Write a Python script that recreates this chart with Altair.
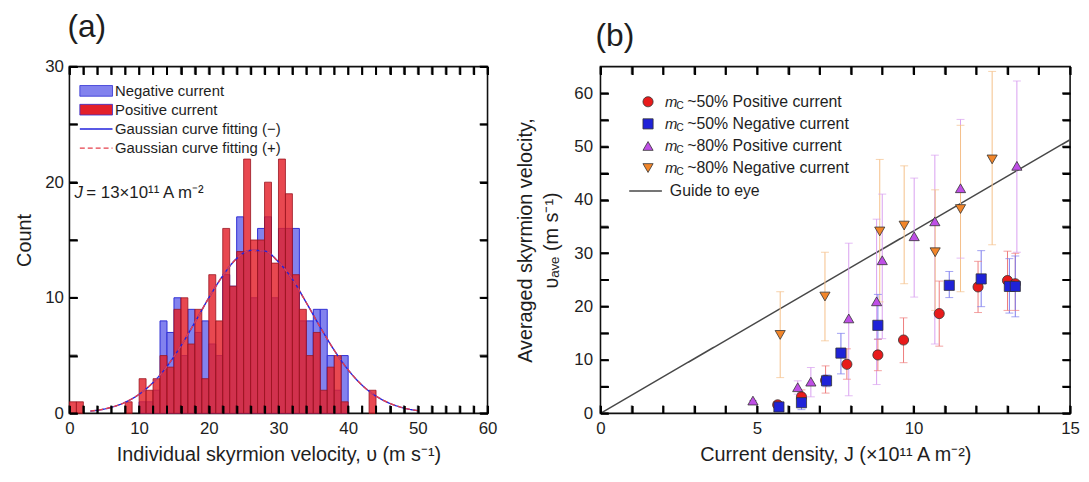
import altair as alt
import pandas as pd

FONT = "Liberation Sans"
TXT = "#1e1e1e"

# ---------------- panel (a): histogram of individual velocities ----------------
bin_left = [0, 1, 2, 3, 4, 5, 6, 7, 8, 9, 10, 11, 12, 13, 14, 15, 16, 17, 18, 19,
            20, 21, 22, 23, 24, 25, 26, 27, 28, 29, 30, 31, 32, 33, 34, 35, 36, 37,
            38, 39, 40, 41, 42, 43]
count_positive = [1, 1, 0, 0, 0, 0, 0, 0, 1, 0,
                  3, 2, 3, 5, 4, 9, 10, 6, 9, 3,
                  12, 8, 16, 11, 14, 22, 15, 15, 20, 13,
                  22, 19, 12, 9, 5, 7, 2, 4, 5, 1,
                  0, 0, 0, 2]
count_negative = [0, 0, 0, 0, 0, 0, 0, 0, 0, 0,
                  1, 1, 2, 8, 7, 10, 5, 9, 7, 8,
                  6, 5, 12, 11, 17, 14, 10, 16, 17, 10,
                  16, 16, 16, 8, 8, 9, 9, 5, 2, 5,
                  0, 0, 0, 0]
BIN_W = 1

fit_x = [3, 4, 6, 8, 10, 12, 14, 16, 18, 20, 22, 24, 26, 28, 30, 32, 34, 36, 38,
         40, 42, 44, 46, 48, 50]
fit_negative = [0.19, 0.27, 0.52, 0.96, 1.65, 2.67, 4.07, 5.84, 7.87, 9.99, 11.9,
                13.4, 14.1, 14.05, 13.1, 11.6, 9.57, 7.45, 5.46, 3.76, 2.44, 1.49,
                0.86, 0.46, 0.23]
fit_positive = [0.19, 0.27, 0.52, 0.96, 1.65, 2.67, 4.07, 5.84, 7.87, 9.99, 11.9,
                13.4, 14.1, 14.05, 13.1, 11.6, 9.57, 7.45, 5.46, 3.76, 2.44, 1.49,
                0.86, 0.46, 0.23]

hist_series = ["Negative current", "Positive current"]
fit_series = ["Gaussian curve fitting (\u2212)", "Gaussian curve fitting (+)"]

a_xticks = [0, 2, 4, 6, 8, 10, 12, 14, 16, 18, 20, 22, 24, 26, 28, 30, 32, 34, 36,
            38, 40, 42, 44, 46, 48, 50, 52, 54, 56, 58, 60]
a_yticks = [0, 5, 10, 15, 20, 25, 30]

# ---------------- panel (b): averaged velocity vs current density ----------------
b_series = ["~50% Positive current", "~50% Negative current",
            "~80% Positive current", "~80% Negative current"]

p50_x = [5.66, 6.42, 7.19, 7.87, 8.86, 9.68, 10.82, 12.06, 13.00, 13.25]
p50_y = [1.6, 3.1, 6.2, 9.2, 10.95, 13.75, 18.7, 23.7, 24.9, 24.3]
p50_lo = [1.0, 1.8, 3.8, 6.4, 8.0, 9.5, 12.6, 18.9, 19.3, 19.3]
p50_hi = [2.2, 4.4, 8.9, 12.1, 13.9, 17.9, 24.8, 28.5, 30.4, 30.0]

n50_x = [5.70, 6.42, 7.22, 7.68, 8.86, 11.14, 12.16, 13.06, 13.25]
n50_y = [1.2, 2.0, 6.1, 11.3, 16.5, 24.0, 25.2, 23.8, 23.8]
n50_lo = [0.6, 0.7, 5.0, 7.4, 13.9, 21.7, 20.0, 18.8, 18.1]
n50_hi = [2.0, 3.2, 7.2, 15.0, 22.3, 26.6, 30.5, 29.0, 29.5]

p80_x = [4.87, 6.30, 6.72, 7.93, 8.82, 9.00, 10.02, 10.68, 11.50, 13.30]
p80_y = [2.4, 4.9, 5.95, 17.8, 21.0, 28.7, 33.2, 36.0, 42.2, 46.4]
p80_lo = [2.4, 3.6, 3.1, 3.3, 5.4, 14.0, 21.8, 13.0, 29.1, 30.2]
p80_hi = [2.4, 6.1, 8.6, 31.9, 36.4, 41.1, 44.1, 48.4, 55.1, 62.3]

n80_x = [5.74, 7.17, 8.92, 9.70, 10.69, 11.50, 12.51]
n80_y = [14.7, 21.9, 34.1, 35.2, 30.2, 38.3, 47.6]
n80_lo = [6.7, 13.6, 20.9, 24.3, 19.3, 22.8, 31.6]
n80_hi = [22.8, 30.2, 47.6, 46.4, 41.9, 54.0, 64.1]

guide_x = [0, 15]
guide_y = [0, 51.3]

b_xticks = [0, 1, 2, 3, 4, 5, 6, 7, 8, 9, 10, 11, 12, 13, 14, 15]
b_yticks = [0, 5, 10, 15, 20, 25, 30, 35, 40, 45, 50, 55, 60]

# ---------------- build tables ----------------
neg_df = pd.DataFrame([{"x0": b, "x1": b + BIN_W, "count": c, "series": hist_series[0]}
                       for b, c in zip(bin_left, count_negative) if c > 0])
pos_df = pd.DataFrame([{"x0": b, "x1": b + BIN_W, "count": c, "series": hist_series[1]}
                       for b, c in zip(bin_left, count_positive) if c > 0])
fit_df = pd.concat([
    pd.DataFrame({"x": fit_x, "y": fit_negative, "fit": fit_series[0]}),
    pd.DataFrame({"x": fit_x, "y": fit_positive, "fit": fit_series[1]}),
])

pts = []
for name, xs, ys, los, his in [
    (b_series[0], p50_x, p50_y, p50_lo, p50_hi),
    (b_series[1], n50_x, n50_y, n50_lo, n50_hi),
    (b_series[2], p80_x, p80_y, p80_lo, p80_hi),
    (b_series[3], n80_x, n80_y, n80_lo, n80_hi),
]:
    for x, y, lo, hi in zip(xs, ys, los, his):
        pts.append({"x": x, "y": y, "lo": lo, "hi": hi, "series": name})
pts_df = pd.DataFrame(pts)
guide_df = pd.DataFrame({"x": guide_x, "y": guide_y, "g": "Guide to eye"})

TICK = 8
TICKC = "#000000"
TICKW = 2


def axis_with_inward_ticks(values, step, title, lp, tp, span):
    """Labels every `step`; inward ticks on both opposite edges drawn as dashed grid lines."""
    return alt.Axis(values=values,
                    labelExpr=f"datum.value % {step} === 0 ? datum.label : ''",
                    ticks=False, domain=False,
                    grid=True, gridColor=TICKC, gridWidth=TICKW, gridOpacity=1,
                    gridDash=[TICK, span - 2 * TICK],
                    labelOverlap=False, labelFlush=False, labelPadding=lp,
                    title=title, titlePadding=tp, zindex=1)


def tick_layers(xvals, yvals, xs, ys, xax, yax, xdom, ydom):
    """Same inward ticks as marks placed through the scales (backs up the grid dashes)."""
    tx = pd.DataFrame({"tv": xvals})
    ty = pd.DataFrame({"tv": yvals})
    out = []
    for yd, off in [(ydom[0], -TICK / 2), (ydom[1], TICK / 2)]:
        out.append(alt.Chart(tx).transform_calculate(edge=str(yd)).mark_tick(
            orient="vertical", size=TICK, thickness=TICKW, color=TICKC, yOffset=off).encode(
            x=alt.X("tv:Q", scale=xs, axis=xax),
            y=alt.Y("edge:Q", scale=ys, axis=yax)))
    for xd, off in [(xdom[0], TICK / 2), (xdom[1], -TICK / 2)]:
        out.append(alt.Chart(ty).transform_calculate(edge=str(xd)).mark_tick(
            orient="horizontal", size=TICK, thickness=TICKW, color=TICKC, xOffset=off).encode(
            y=alt.Y("tv:Q", scale=ys, axis=yax),
            x=alt.X("edge:Q", scale=xs, axis=xax)))
    return out


one = pd.DataFrame({"k": [0]})

# ---------------- panel (a) ----------------
WA, HA = 422, 350
XA_DOM, YA_DOM = [0, 60], [0, 30]
xa = alt.Scale(domain=XA_DOM, nice=False, zero=False)
ya = alt.Scale(domain=YA_DOM, nice=False)
xa_axis = axis_with_inward_ticks(a_xticks, 10,
                                 "Individual skyrmion velocity, \u03c5 (m s\u207b\u00b9)", 7, 9, HA)
ya_axis = axis_with_inward_ticks(a_yticks, 10, "Count", 6, 10, WA)
fill_a = alt.Scale(domain=hist_series, range=["#8282ee", "#e3202a"])
leg_bars = alt.Legend(title=None, orient="none", legendX=19.5, legendY=17,
                      symbolType="M-2.75,-0.9H2.75V0.9H-2.75Z", symbolSize=144,
                      labelFontSize=15, labelOffset=11.5, rowPadding=3, padding=0,
                      labelLimit=400, symbolStrokeWidth=0.8)

bars_neg = alt.Chart(neg_df).mark_rect(stroke="#3030d4", strokeWidth=1).encode(
    x=alt.X("x0:Q", scale=xa, axis=xa_axis),
    x2="x1:Q",
    y=alt.Y("count:Q", scale=ya, axis=ya_axis),
    y2=alt.datum(0),
    fill=alt.Fill("series:N", scale=fill_a, legend=leg_bars),
)
bars_pos = alt.Chart(pos_df).mark_rect(stroke="#9a1420", strokeWidth=0.8, fillOpacity=0.82).encode(
    x=alt.X("x0:Q", scale=xa, axis=xa_axis),
    x2="x1:Q",
    y=alt.Y("count:Q", scale=ya, axis=ya_axis),
    y2=alt.datum(0),
    fill=alt.Fill("series:N", scale=fill_a, legend=leg_bars),
)
leg_fit = alt.Legend(title=None, orient="none", legendX=19.5, legendY=55.5,
                     symbolType="M-2.75,0H2.75", symbolSize=144, symbolStrokeWidth=1.4,
                     labelFontSize=15, labelOffset=11.5, rowPadding=3.3, padding=0,
                     labelLimit=400)
fits = alt.Chart(fit_df).mark_line(strokeWidth=1.4, interpolate="monotone").encode(
    x=alt.X("x:Q", scale=xa, axis=xa_axis),
    y=alt.Y("y:Q", scale=ya, axis=ya_axis),
    stroke=alt.Stroke("fit:N", scale=alt.Scale(domain=fit_series, range=["#2222dd", "#e5404c"]),
                      legend=leg_fit),
    strokeDash=alt.StrokeDash("fit:N", scale=alt.Scale(domain=fit_series, range=[[1, 0], [5, 3]]),
                              legend=leg_fit),
)
j_sym = alt.Chart(one).mark_text(text="J", font=FONT, fontSize=17, fontStyle="italic",
                                 align="left", baseline="middle", color=TXT).encode(
    x=alt.value(5), y=alt.value(128))
j_rest = alt.Chart(one).mark_text(text="= 13\u00d710\u00b9\u00b9 A m\u207b\u00b2", font=FONT,
                                  fontSize=17, align="left", baseline="middle", color=TXT).encode(
    x=alt.value(17), y=alt.value(128))

panel_a = alt.layer(
    bars_neg, bars_pos, fits, j_sym, j_rest,
    *tick_layers(a_xticks, a_yticks, xa, ya, xa_axis, ya_axis, XA_DOM, YA_DOM)
).properties(
    width=WA, height=HA,
    title=alt.TitleParams(text="(a)", anchor="start", frame="group", offset=14, dx=-2,
                          fontSize=32, font=FONT, fontWeight="normal", color=TXT))

# ---------------- panel (b) ----------------
WB, HB = 474, 350
XB_DOM, YB_DOM = [0, 15], [0, 65]
xb = alt.Scale(domain=XB_DOM, nice=False, zero=False)
yb = alt.Scale(domain=YB_DOM, nice=False)
xb_axis = axis_with_inward_ticks(b_xticks, 5,
                                 "Current density, J (\u00d710\u00b9\u00b9 A m\u207b\u00b2)", 7, 9, HB)
yb_axis = axis_with_inward_ticks(
    b_yticks, 10, ["Averaged skyrmion velocity,", "\u03c5\u2090\u1d65\u2091 (m s\u207b\u00b9)"],
    8, 12, WB)
b_colors = ["#e81b1b", "#1f22d8", "#bf4fe6", "#f2862a"]
b_shapes = ["circle", "square", "triangle-up", "triangle-down"]
b_err_colors = ["#ee7b7b", "#7b7bee", "#d9a0f0", "#f5c08a"]
color_b = alt.Scale(domain=b_series, range=b_colors)
shape_b = alt.Scale(domain=b_series, range=b_shapes)
err_b = alt.Scale(domain=b_series, range=b_err_colors)
leg_guide = alt.Legend(title=None, orient="none", legendX=37.5, legendY=117.5,
                       symbolType="M-2.75,0H2.75", symbolSize=144, symbolStrokeWidth=1.4,
                       symbolStrokeColor="#484848",
                       labelFontSize=16, labelOffset=16.5, padding=0, labelLimit=400)

guide = alt.Chart(guide_df).mark_line(strokeWidth=1.5, color="#484848").encode(
    x=alt.X("x:Q", scale=xb, axis=xb_axis),
    y=alt.Y("y:Q", scale=yb, axis=yb_axis),
    strokeDash=alt.StrokeDash("g:N", scale=alt.Scale(domain=["Guide to eye"], range=[[1, 0]]),
                              legend=leg_guide),
)
err_rule = alt.Chart(pts_df).mark_rule(strokeWidth=1).encode(
    x=alt.X("x:Q", scale=xb, axis=xb_axis),
    y=alt.Y("lo:Q", scale=yb, axis=yb_axis), y2="hi:Q",
    stroke=alt.Stroke("series:N", scale=err_b, legend=None))
cap_lo = alt.Chart(pts_df).mark_tick(orient="horizontal", size=8, thickness=1).encode(
    x=alt.X("x:Q", scale=xb, axis=xb_axis), y=alt.Y("lo:Q", scale=yb, axis=yb_axis),
    fill=alt.Fill("series:N", scale=err_b, legend=None))
cap_hi = alt.Chart(pts_df).mark_tick(orient="horizontal", size=8, thickness=1).encode(
    x=alt.X("x:Q", scale=xb, axis=xb_axis), y=alt.Y("hi:Q", scale=yb, axis=yb_axis),
    fill=alt.Fill("series:N", scale=err_b, legend=None))
points = alt.Chart(pts_df).mark_point(filled=True, stroke="#333333", strokeWidth=0.8,
                                      opacity=1, size=105).encode(
    x=alt.X("x:Q", scale=xb, axis=xb_axis),
    y=alt.Y("y:Q", scale=yb, axis=yb_axis),
    color=alt.Color("series:N", scale=color_b, legend=None),
    shape=alt.Shape("series:N", scale=shape_b, legend=None),
)

# legend for the four marker series (symbol, italic m, subscript C, label)
legend_rows_y = [35.5, 57.8, 80.1, 102.4]
legend_parts = []
for ry, name, col, shp in zip(legend_rows_y, b_series, b_colors, b_shapes):
    legend_parts.append(alt.Chart(one).mark_point(
        shape=shp, filled=True, fill=col, stroke="#333333", strokeWidth=0.8,
        size=105, opacity=1).encode(x=alt.value(48), y=alt.value(ry)))
    legend_parts.append(alt.Chart(one).mark_text(
        text="m", font=FONT, fontSize=15, fontStyle="italic",
        align="left", baseline="middle", color=TXT).encode(x=alt.value(65), y=alt.value(ry)))
    legend_parts.append(alt.Chart(one).mark_text(
        text="C", font=FONT, fontSize=10.5,
        align="left", baseline="middle", color=TXT).encode(x=alt.value(76.5), y=alt.value(ry + 4)))
    legend_parts.append(alt.Chart(one).mark_text(
        text=name, font=FONT, fontSize=16,
        align="left", baseline="middle", color=TXT).encode(x=alt.value(87.5), y=alt.value(ry)))

panel_b = alt.layer(
    guide, err_rule, cap_lo, cap_hi, points, *legend_parts,
    *tick_layers(b_xticks, b_yticks, xb, yb, xb_axis, yb_axis, XB_DOM, YB_DOM)
).properties(
    width=WB, height=HB,
    title=alt.TitleParams(text="(b)", anchor="start", frame="group", offset=14, dx=-5,
                          fontSize=32, font=FONT, fontWeight="normal", color=TXT))

chart = alt.hconcat(panel_a, panel_b, spacing=16).resolve_scale(
    fill="independent", stroke="independent", strokeDash="independent",
    shape="independent", color="independent"
).properties(
    padding={"left": 6, "top": 0, "right": 0, "bottom": 0}
).configure_view(
    stroke="#111111", strokeWidth=1.6
).configure_axis(
    labelFont=FONT, labelFontSize=17, labelColor=TXT,
    titleFont=FONT, titleFontSize=20, titleColor=TXT, titleFontWeight="normal",
    titleLineHeight=27
).configure_legend(
    labelFont=FONT, labelColor=TXT
)

chart.save("out.html", embed_options={"renderer": "svg", "actions": False})
